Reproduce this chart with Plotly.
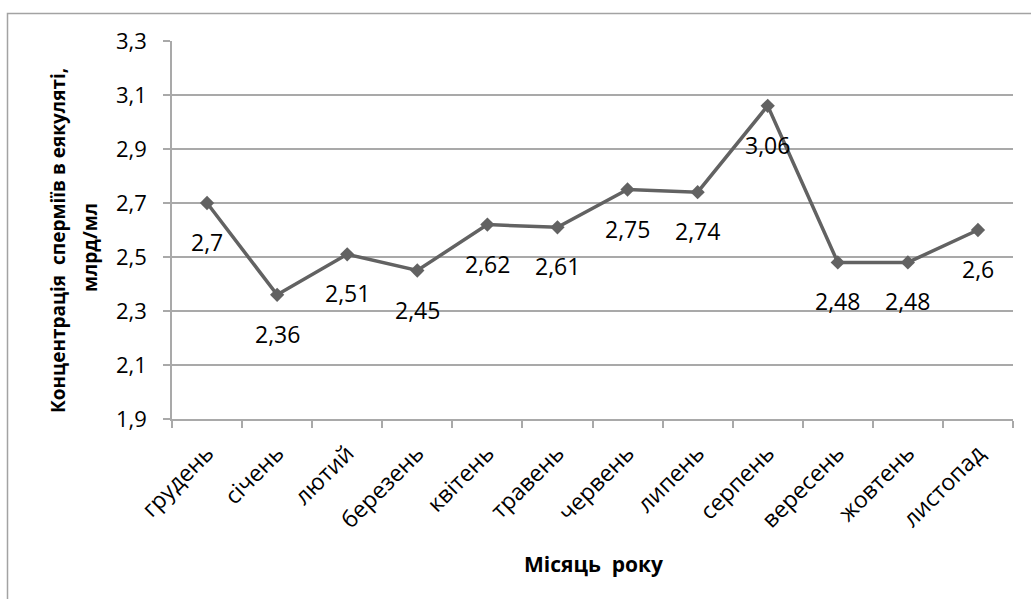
import plotly.graph_objects as go

# Monthly sperm concentration in ejaculate, bn/ml
months = ["грудень", "січень", "лютий", "березень", "квітень", "травень",
          "червень", "липень", "серпень", "вересень", "жовтень", "листопад"]
concentration = [2.7, 2.36, 2.51, 2.45, 2.62, 2.61, 2.75, 2.74, 3.06, 2.48, 2.48, 2.6]
y_ticks = [1.9, 2.1, 2.3, 2.5, 2.7, 2.9, 3.1, 3.3]

FONT = "Open Sans"
LINE = "#626262"
GRID = "#a9a9a9"

W, H = 1031, 599
L, R, T, B = 172, 18, 41, 180
pw, ph = W - L - R, H - T - B


def px_x(x):
    return (x - L) / pw


def px_y(y):
    return (H - B - y) / ph


def fmt(v):
    s = f"{v:.2f}".rstrip("0").rstrip(".")
    return s.replace(".", ",")


fig = go.Figure()
fig.add_trace(go.Scatter(
    x=months, y=concentration, mode="lines+markers",
    line=dict(color=LINE, width=3.5),
    marker=dict(symbol="diamond", size=11, color=LINE),
    hoverinfo="skip", showlegend=False,
))

# value labels under each point
for m, v in zip(months, concentration):
    fig.add_annotation(x=m, y=v, xref="x", yref="y", text=fmt(v),
                       showarrow=False, yshift=-39,
                       xanchor="center", yanchor="middle",
                       font=dict(family=FONT, size=23, color="#000000"))

# axis titles
title_font = dict(family=FONT, size=19, color="#000000", weight="bold")
fig.add_annotation(xref="paper", yref="paper", x=px_x(58), y=px_y(241),
                   xanchor="center", yanchor="middle",
                   text="Концентрація  сперміїв в еякуляті,", textangle=-90,
                   showarrow=False, font=title_font)
fig.add_annotation(xref="paper", yref="paper", x=px_x(90), y=px_y(248),
                   xanchor="center", yanchor="middle",
                   text="млрд/мл", textangle=-90,
                   showarrow=False, font=title_font)
fig.add_annotation(xref="paper", yref="paper", x=px_x(593), y=px_y(564),
                   xanchor="center", yanchor="middle",
                   text="Місяць  року", showarrow=False,
                   font=dict(family=FONT, size=21, color="#000000", weight="bold"))

# outer chart frame
fig.add_shape(type="rect", xref="paper", yref="paper",
              x0=px_x(7.5), x1=px_x(1040), y0=px_y(610), y1=px_y(13.5),
              line=dict(color="#a3a3a3", width=1.5), fillcolor="rgba(0,0,0,0)",
              layer="below")

fig.update_layout(
    width=W, height=H,
    margin=dict(l=L, r=R, t=T, b=B, pad=0),
    paper_bgcolor="white", plot_bgcolor="white",
    separators=", ",
    font=dict(family=FONT, color="#000000"),
)
fig.update_xaxes(
    type="category", range=[-0.5, 11.5],
    showgrid=False, showline=True, linecolor=GRID, linewidth=1.5,
    ticks="outside", tickson="boundaries", ticklen=7, tickwidth=1.5, tickcolor=GRID,
    tickangle=-45, ticklabelstandoff=10,
    tickfont=dict(family=FONT, size=23, color="#000000"),
)
fig.update_yaxes(
    range=[1.9, 3.3], tickvals=y_ticks, tickformat=".1f",
    showgrid=True, gridcolor=GRID, gridwidth=1.5,
    showline=True, linecolor=GRID, linewidth=1.5, zeroline=False,
    ticks="outside", ticklen=7, tickwidth=1.5, tickcolor=GRID,
    ticklabelstandoff=12,
    tickfont=dict(family=FONT, size=22, color="#000000"),
)

fig.write_html("out.html")
